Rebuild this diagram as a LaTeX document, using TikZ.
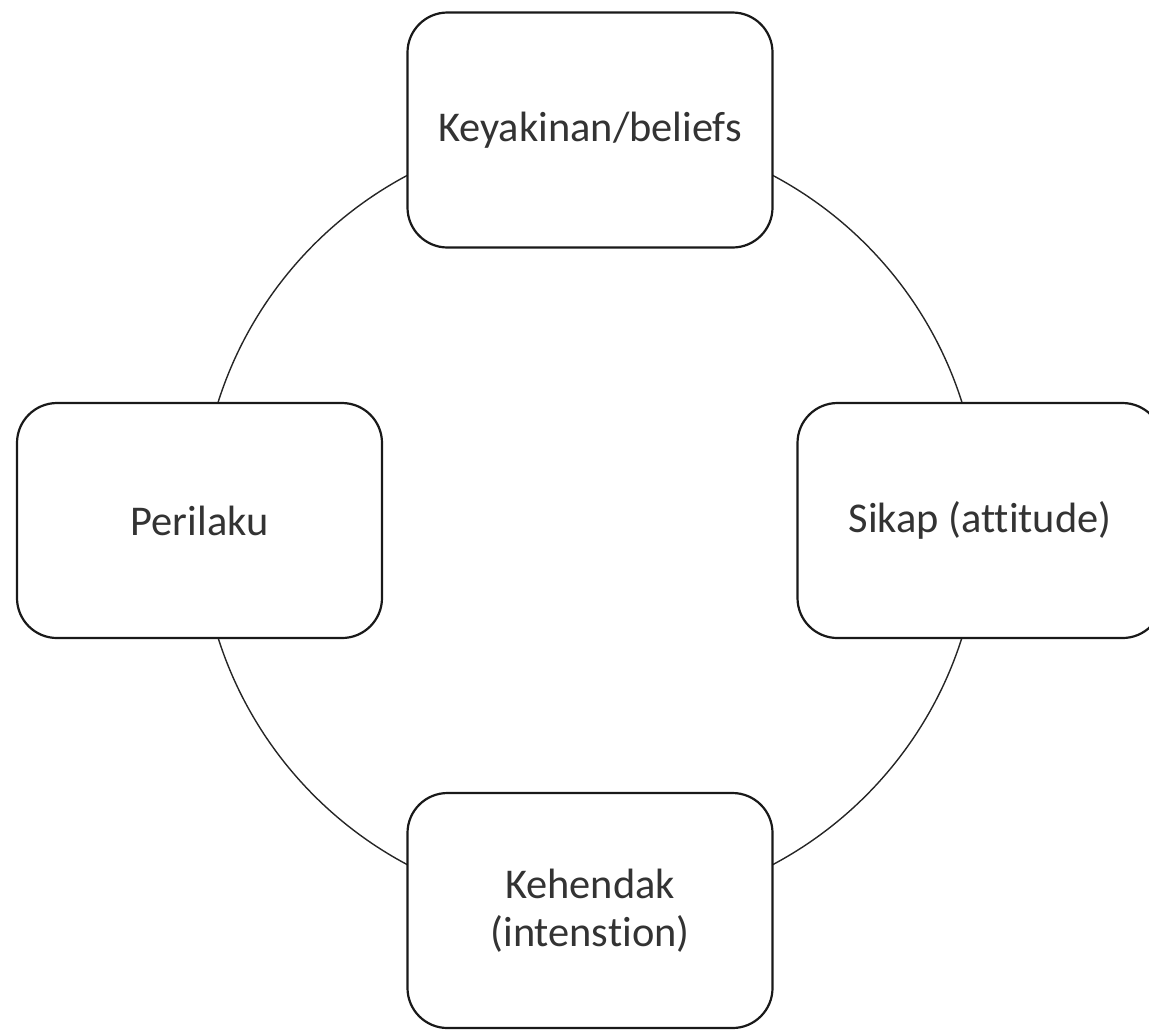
\documentclass[tikz,border=0pt]{standalone}
\usepackage{fontspec}
\setmainfont[Ligatures=CommonOff]{Carlito}
\begin{document}
\begin{tikzpicture}[x=0.5pt,y=-0.5pt,
  stagebox/.style={draw=black!90, line width=1.1pt, fill=white, rounded corners=20pt,
    minimum width=182.5pt, minimum height=117.5pt, align=center,
    font=\fontsize{21.2}{24}\selectfont, text=black!80},
  cycle/.style={draw=black!85, line width=0.7pt}]
  \useasboundingbox (0,0) rectangle (1149,1029);
  \coordinate (c) at (590,520);
  \draw[cycle] (c) circle[radius=195pt];
  \node[stagebox] (beliefs) at (590,130) {Keyakinan/beliefs};
  \node[stagebox] (sikap) at (980,520.5) {Sikap (attitude)};
  \node[stagebox] (kehendak) at (590,910.5) {Kehendak\\(intenstion)};
  \node[stagebox] (perilaku) at (199.5,520.5) {Perilaku};
\end{tikzpicture}
\end{document}
